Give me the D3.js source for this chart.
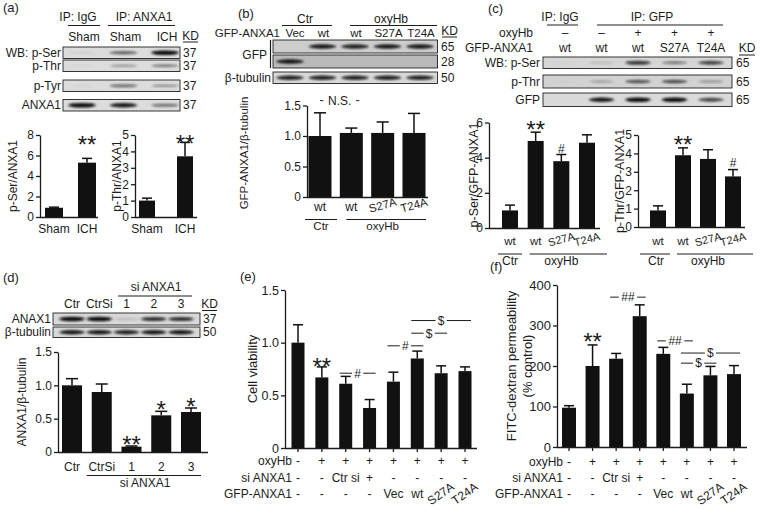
<!DOCTYPE html>
<html>
<head>
<meta charset="utf-8" />
<title>ANXA1 phosphorylation figure</title>
<script src="https://d3js.org/d3.v7.min.js"></script>
<style>
  body { margin: 0; background: #fff; }
  svg { font-family: "Liberation Sans", Arial, Helvetica, sans-serif; }
</style>
</head>
<body>
<svg id="fig" width="760" height="510"></svg>
<script>
  // ---------- data ----------
  // (a)
  const aLanes = ["Sham", "Sham", "ICH"];
  const aRows = ["WB: p-Ser", "p-Thr", "p-Tyr", "ANXA1"];
  const aBands = [
    [0.06, 0.55, 0.95],
    [0.05, 0.3, 0.45],
    [0.05, 0.5, 0.35],
    [0.95, 0.9, 0.5]
  ];
  const aKD = ["37", "37", "37", "37"];
  const aCats = ["Sham", "ICH"];
  const aSer = [0.9, 5.3], aSerErr = [0.06, 0.42];
  const aThr = [1.0, 3.7], aThrErr = [0.15, 0.85];
  const aSerTicks = [0, 2, 4, 6, 8], aThrTicks = [0, 1, 2, 3, 4, 5];

  // (b)
  const bLanes = ["Vec", "wt", "wt", "S27A", "T24A"];
  const bRows = ["", "", "β-tubulin"];
  const bBands = [
    [0, 0.9, 0.85, 0.9, 0.9],
    [0.9, 0, 0, 0, 0],
    [0.85, 0.85, 0.85, 0.85, 0.85]
  ];
  const bKD = ["65", "28", "50"];
  const bCats = ["wt", "wt", "S27A", "T24A"];
  const bVals = [1.0, 1.05, 1.05, 1.05], bErr = [0.38, 0.08, 0.18, 0.32];
  const bTicks = [0, 0.5, 1.0, 1.5];

  // (c)
  const cOxy = ["–", "–", "+", "+", "+"];
  const cLanes = ["wt", "wt", "wt", "S27A", "T24A"];
  const cRows = ["WB: p-Ser", "p-Thr", "GFP"];
  const cBands = [
    [0.03, 0.15, 0.75, 0.45, 0.7],
    [0.03, 0.25, 0.6, 0.65, 0.3],
    [0, 0.9, 0.95, 0.95, 0.7]
  ];
  const cKD = ["65", "65", "65"];
  const cCats = ["wt", "wt", "S27A", "T24A"];
  const cSer = [1.0, 4.95, 3.8, 4.85], cSerErr = [0.3, 0.5, 0.38, 0.45];
  const cThr = [0.9, 3.9, 3.7, 2.75], cThrErr = [0.25, 0.4, 0.5, 0.37];
  const cSerTicks = [0, 2, 4, 6], cThrTicks = [0, 1, 2, 3, 4, 5];

  // (d)
  const dLanes = ["Ctr", "CtrSi", "1", "2", "3"];
  const dRows = ["ANAX1", "β-tubulin"];
  const dBands = [
    [0.95, 0.95, 0.15, 0.8, 0.8],
    [0.9, 0.9, 0.85, 0.9, 0.9]
  ];
  const dKD = ["37", "50"];
  const dVals = [1.0, 0.9, 0.08, 0.55, 0.6], dErr = [0.1, 0.12, 0.01, 0.06, 0.06];
  const dTicks = [0, 0.5, 1.0, 1.5];

  // (e) / (f)
  const condNames = ["oxyHb", "si ANXA1", "GFP-ANXA1"];
  const oxyRow = ["-", "+", "+", "+", "+", "+", "+", "+"];
  const siRow = ["-", "-", "Ctr si", "+", "-", "-", "-", "-"];
  const gfpRow = ["-", "-", "-", "-", "Vec", "wt", "S27A", "T24A"];
  const eVals = [1.0, 0.67, 0.61, 0.38, 0.63, 0.85, 0.71, 0.73];
  const eErr = [0.17, 0.1, 0.07, 0.08, 0.09, 0.07, 0.07, 0.04];
  const eTicks = [0, 0.5, 1.0, 1.5];
  const eSig = [
    { from: 2, to: 3, label: "#", at: 0.71 },
    { from: 4, to: 5, label: "#", at: 0.97 },
    { from: 5, to: 6, label: "$", at: 1.09 },
    { from: 5, to: 7, label: "$", at: 1.21 }
  ];
  const fVals = [97, 200, 218, 323, 230, 132, 177, 180];
  const fErr = [5, 52, 13, 28, 16, 23, 22, 21];
  const fTicks = [0, 100, 200, 300, 400];
  const fSig = [
    { from: 2, to: 3, label: "##", at: 370 },
    { from: 4, to: 5, label: "##", at: 262 },
    { from: 5, to: 7, label: "$", at: 232 },
    { from: 5, to: 6, label: "$", at: 207 }
  ];

  // ---------- helpers ----------
  const ink = "#1c1c1c";
  const svg = d3.select("#fig");
  svg.append("rect").attr("width", 760).attr("height", 510).attr("fill", "#fff");
  svg.append("defs").append("filter").attr("id", "blur")
    .attr("x", "-40%").attr("y", "-300%").attr("width", "180%").attr("height", "700%")
    .append("feGaussianBlur").attr("stdDeviation", "1.5 1.0");

  function txt(x, y, s, o = {}) {
    const t = svg.append("text").attr("x", x).attr("y", y).text(s)
      .attr("fill", ink)
      .attr("font-size", o.size || 12)
      .attr("text-anchor", o.anchor || "middle");
    if (o.rotate) t.attr("transform", `rotate(${o.rotate},${x},${y})`);
    if (o.dy) t.attr("dy", o.dy);
    return t;
  }

  function hline(x1, x2, y, w = 1) {
    svg.append("line").attr("x1", x1).attr("x2", x2).attr("y1", y).attr("y2", y)
      .attr("stroke", ink).attr("stroke-width", w);
  }

  function blot(lx, rows, bands, kd, o) {
    rows.forEach((r, i) => {
      const top = o.tops[i], h = o.hs[i];
      svg.append("rect").attr("x", o.x0).attr("y", top)
        .attr("width", o.x1 - o.x0).attr("height", h)
        .attr("fill", o.bg[i]).attr("stroke", "#222").attr("stroke-width", 0.9);
      svg.append("g").selectAll("ellipse").data(bands[i]).join("ellipse")
        .attr("cx", (d, j) => lx(j)).attr("cy", top + h / 2)
        .attr("rx", o.bw / 2).attr("ry", d => 0.8 + 1.6 * d)
        .attr("fill", "#0a0a0a").attr("opacity", d => Math.min(1, d * 1.05))
        .attr("filter", "url(#blur)");
      if (r) txt(o.labelX, top + h / 2, r, { anchor: "end", dy: "0.35em" });
      txt(o.kdX, top + h / 2, kd[i], { anchor: "start", dy: "0.35em" });
    });
  }

  function barChart(o) {
    const y = d3.scaleLinear().domain(o.domain).range([o.y0, o.y1]);
    const x = d3.scalePoint().domain(d3.range(o.vals.length)).range([o.c0, o.cN]);
    const g = svg.append("g");
    g.selectAll("rect").data(o.vals).join("rect")
      .attr("x", (d, i) => x(i) - o.bw / 2).attr("y", d => y(d))
      .attr("width", o.bw).attr("height", d => o.y0 - y(d)).attr("fill", "#111");
    g.selectAll("line.ev").data(o.vals).join("line").attr("class", "ev")
      .attr("x1", (d, i) => x(i)).attr("x2", (d, i) => x(i))
      .attr("y1", d => y(d)).attr("y2", (d, i) => y(d + o.errs[i]))
      .attr("stroke", "#111").attr("stroke-width", 1.5);
    g.selectAll("line.ec").data(o.vals).join("line").attr("class", "ec")
      .attr("x1", (d, i) => x(i) - o.cap).attr("x2", (d, i) => x(i) + o.cap)
      .attr("y1", (d, i) => y(d + o.errs[i])).attr("y2", (d, i) => y(d + o.errs[i]))
      .attr("stroke", "#111").attr("stroke-width", 1.5);

    const ax = svg.append("g").attr("transform", `translate(${o.axisX},0)`)
      .call(d3.axisLeft(y).tickValues(o.ticks).tickFormat(o.fmt || (d => d))
        .tickSize(4).tickPadding(2).tickSizeOuter(0));
    ax.attr("font-family", null).attr("font-size", null);
    ax.selectAll("path, line").attr("stroke", ink).attr("stroke-width", 1.3);
    ax.selectAll("text").attr("fill", ink).attr("font-size", o.fs || 12);
    hline(o.axisX, o.xEnd, o.y0 + 0.5, 1.3);
    if (o.xticks) {
      g.selectAll("line.xt").data(o.vals).join("line").attr("class", "xt")
        .attr("x1", (d, i) => x(i)).attr("x2", (d, i) => x(i))
        .attr("y1", o.y0).attr("y2", o.y0 + 4)
        .attr("stroke", ink).attr("stroke-width", 1.3);
    }
    return { x, y };
  }

  function catLabels(x, cats, yb, rot, fs) {
    cats.forEach((c, i) => {
      if (/^[ST]\d/.test(c)) txt(x(i) + 1, yb - 2, c, { size: fs - 0.5, rotate: rot });
      else txt(x(i), yb, c, { size: fs });
    });
  }

  function stars(x, yBottom, s, size = 24) {
    txt(x, yBottom + 0.41 * size, s, { size });
  }

  function bracket(xa, xb, yy, label, fs = 12) {
    const mid = (xa + xb) / 2, gap = label.length * 3.6 + 2;
    hline(xa, mid - gap, yy);
    hline(mid + gap, xb, yy);
    txt(mid, yy, label, { size: fs, dy: "0.36em" });
  }

  function condRows(x, labelX, ys, fs) {
    [oxyRow, siRow, gfpRow].forEach((row, r) => {
      txt(labelX, ys[r], condNames[r], { anchor: "end", size: fs });
      row.forEach((s, i) => {
        if (/^[ST]\d/.test(s)) txt(x(i) + 2, ys[r] - 1, s, { size: fs, rotate: -35 });
        else txt(x(i), ys[r], s, { size: fs });
      });
    });
  }

  const fmt1 = d => (d === 0 ? "0" : d.toFixed(1));

  // ---------- panel letters ----------
  txt(3, 12, "(a)", { anchor: "start", size: 13 });
  txt(238, 18, "(b)", { anchor: "start", size: 13 });
  txt(488, 13, "(c)", { anchor: "start", size: 13 });
  txt(3, 282, "(d)", { anchor: "start", size: 13 });
  txt(240, 281, "(e)", { anchor: "start", size: 13 });
  txt(490, 271, "(f)", { anchor: "start", size: 13 });

  // ---------- (a) ----------
  const aLx = d3.scalePoint().domain(d3.range(aLanes.length)).range([82, 165]);
  txt(78, 21, "IP: IgG"); hline(68, 100, 25.5);
  txt(144, 21, "IP: ANXA1"); hline(108, 175, 25.5);
  aLanes.forEach((l, i) => txt(aLx(i) + 2, 40.5, l));
  txt(190.5, 39.5, "KD"); hline(183, 198, 42);
  blot(aLx, aRows, aBands, aKD, {
    x0: 63, x1: 180, tops: [47, 60, 80, 99.5], hs: [11.5, 11.5, 11.5, 11.5],
    bw: 27, bg: ["#dcdcdc", "#dcdcdc", "#dcdcdc", "#dcdcdc"], labelX: 61, kdX: 183
  });

  const aL = barChart({ axisX: 40, xEnd: 98, y0: 217, y1: 135, domain: [0, 8], ticks: aSerTicks,
    vals: aSer, errs: aSerErr, c0: 54, cN: 87, bw: 18, cap: 5 });
  catLabels(aL.x, aCats, 233, 0, 12);
  txt(13, 176, "p-Ser/ANXA1", { rotate: -90, dy: "0.35em" });
  stars(aL.x(1), aL.y(7.2), "**");

  const aR = barChart({ axisX: 135, xEnd: 197, y0: 217, y1: 135, domain: [0, 5], ticks: aThrTicks,
    vals: aThr, errs: aThrErr, c0: 147, cN: 185, bw: 16, cap: 5 });
  catLabels(aR.x, aCats, 233, 0, 12);
  txt(117, 176, "p-Thr/ANXA1", { rotate: -90, dy: "0.35em" });
  stars(aR.x(1), aR.y(4.57), "**");

  // ---------- (b) ----------
  const bLx = d3.scalePoint().domain(d3.range(bLanes.length)).range([290, 420]);
  txt(305, 22.5, "Ctr"); hline(282, 332, 25.5);
  txt(391, 22.5, "oxyHb"); hline(350, 437, 25.5);
  txt(280, 36.5, "GFP-ANXA1", { anchor: "end", size: 11.5 });
  bLanes.forEach((l, i) => txt(bLx(i) + (i === 0 ? 5 : 1), 36.5, l, { size: 11.5 }));
  txt(449.5, 34.5, "KD"); hline(442, 457, 37);
  blot(bLx, bRows, bBands, bKD, {
    x0: 273, x1: 437.5, tops: [40, 55, 72], hs: [13, 13, 11.5],
    bw: 27, bg: ["#cdcdcd", "#bababa", "#d8d8d8"], labelX: 271, kdX: 441
  });
  txt(267, 54.5, "GFP", { anchor: "end", dy: "0.35em" });
  svg.append("line").attr("x1", 270.5).attr("x2", 270.5).attr("y1", 40).attr("y2", 68)
    .attr("stroke", ink).attr("stroke-width", 1.2);

  const bC = barChart({ axisX: 307, xEnd: 428, y0: 197, y1: 105.5, domain: [0, 1.5], ticks: bTicks,
    fmt: fmt1, vals: bVals, errs: bErr, c0: 320, cN: 414, bw: 23, cap: 6 });
  catLabels(bC.x, bCats, 211, -15, 12);
  txt(244, 153, "GFP-ANXA1/β-tubulin", { rotate: -90, dy: "0.35em", size: 11.5 });
  bracket(bC.x(0), bC.x(1) + 8, bC.y(1.58), "N.S.");
  hline(bC.x(0) - 15, bC.x(0) + 17, 219.5);
  txt(bC.x(0) + 1, 229.5, "Ctr", { size: 11.5 });
  hline(bC.x(1) - 5, bC.x(3) + 12, 219.5);
  txt((bC.x(1) + bC.x(3)) / 2, 229.5, "oxyHb", { size: 11.5 });

  // ---------- (c) ----------
  const cLx = d3.scalePoint().domain(d3.range(cLanes.length)).range([565, 711]);
  txt(560, 20.5, "IP: IgG"); hline(547, 578, 25);
  txt(652, 20.5, "IP: GFP"); hline(597, 723, 25);
  txt(533, 36.5, "oxyHb", { anchor: "end" });
  cOxy.forEach((s, i) => txt(cLx(i), 36.5, s));
  txt(533, 52, "GFP-ANXA1", { anchor: "end" });
  cLanes.forEach((l, i) => txt(cLx(i), 52, l));
  txt(747, 52, "KD"); hline(739, 755, 55);
  blot(cLx, cRows, cBands, cKD, {
    x0: 543, x1: 732, tops: [57, 75, 93], hs: [11.5, 13, 13.5],
    bw: 25, bg: ["#d6d6d6", "#d2d2d2", "#dadada"], labelX: 540, kdX: 736
  });

  const cL = barChart({ axisX: 489, xEnd: 600, y0: 228, y1: 122.5, domain: [0, 6], ticks: cSerTicks,
    vals: cSer, errs: cSerErr, c0: 510, cN: 587, bw: 16, cap: 5 });
  catLabels(cL.x, cCats, 245, -15, 11.5);
  txt(474, 175, "p-Ser/GFP-ANXA1", { rotate: -90, dy: "0.35em", size: 12.5 });
  stars(cL.x(1), cL.y(5.7), "**");
  txt(cL.x(2), cL.y(4.28), "#");
  hline(cL.x(0) - 12, cL.x(0) + 12, 254);
  txt(cL.x(0), 265, "Ctr");
  hline(cL.x(1) - 6, cL.x(3) + 20, 254);
  txt((cL.x(1) + cL.x(3)) / 2, 265, "oxyHb");

  const cR = barChart({ axisX: 638, xEnd: 745, y0: 227, y1: 135, domain: [0, 5], ticks: cThrTicks,
    vals: cThr, errs: cThrErr, c0: 658, cN: 733, bw: 16, cap: 5 });
  catLabels(cR.x, cCats, 245, -15, 11.5);
  txt(620, 181, "p-Thr/GFP-ANXA1", { rotate: -90, dy: "0.35em", size: 12.5 });
  stars(cR.x(1), cR.y(4.57), "**");
  txt(cR.x(3), cR.y(3.26), "#");
  hline(cR.x(0) - 18, cR.x(0) + 12, 254);
  txt(cR.x(0) - 2, 265, "Ctr");
  hline(cR.x(1) - 6, cR.x(3) + 20, 254);
  txt((cR.x(1) + cR.x(3)) / 2, 265, "oxyHb");

  // ---------- (d) ----------
  const dLx = d3.scalePoint().domain(d3.range(dLanes.length)).range([72, 181]);
  txt(156, 291, "si ANXA1"); hline(118, 192, 296);
  dLanes.forEach((l, i) => txt(dLx(i), 308, l));
  txt(209.5, 307.5, "KD"); hline(202, 217, 310.5);
  blot(dLx, dRows, dBands, dKD, {
    x0: 53, x1: 200, tops: [313, 327], hs: [12, 10.5],
    bw: 25, bg: ["#d8d8d8", "#d8d8d8"], labelX: 51, kdX: 203
  });

  const dC = barChart({ axisX: 58, xEnd: 208, y0: 452, y1: 352, domain: [0, 1.5], ticks: dTicks,
    fmt: fmt1, vals: dVals, errs: dErr, c0: 72, cN: 191, bw: 20, cap: 6 });
  catLabels(dC.x, dLanes, 471, 0, 12);
  txt(22, 402, "ANXA1/β-tubulin", { rotate: -90, dy: "0.35em" });
  stars(dC.x(2), dC.y(0.135), "**");
  stars(dC.x(3), dC.y(0.66), "*");
  stars(dC.x(4), dC.y(0.70), "*");
  hline(dC.x(1) - 15, dC.x(4) + 10, 475.5);
  txt(145, 487, "si ANXA1");

  // ---------- (e) ----------
  const eC = barChart({ axisX: 285, xEnd: 477, y0: 448, y1: 290, domain: [0, 1.5], ticks: eTicks,
    fmt: fmt1, vals: eVals, errs: eErr, c0: 298, cN: 465, bw: 13, cap: 5, fs: 12.5, xticks: true });
  txt(252, 369, "Cell viability", { rotate: -90, dy: "0.35em", size: 13 });
  stars(eC.x(1), eC.y(0.79), "**");
  eSig.forEach(s => bracket(eC.x(s.from) - 6, eC.x(s.to) + 6, eC.y(s.at), s.label));
  condRows(eC.x, eC.x(0) - 6, [465, 482, 498], 12);

  // ---------- (f) ----------
  const fC = barChart({ axisX: 557, xEnd: 747, y0: 447, y1: 285, domain: [0, 400], ticks: fTicks,
    vals: fVals, errs: fErr, c0: 569, cN: 734, bw: 14, cap: 5, fs: 13, xticks: true });
  txt(511, 366, "FITC-dextran permeability", { rotate: -90, dy: "0.35em", size: 13 });
  txt(527, 366, "(% control)", { rotate: -90, dy: "0.35em", size: 13 });
  stars(fC.x(1), fC.y(264), "**");
  fSig.forEach(s => bracket(fC.x(s.from) - 6, fC.x(s.to) + 6, fC.y(s.at), s.label));
  condRows(fC.x, fC.x(0) - 6, [466, 482, 498], 12);
</script>
</body>
</html>
